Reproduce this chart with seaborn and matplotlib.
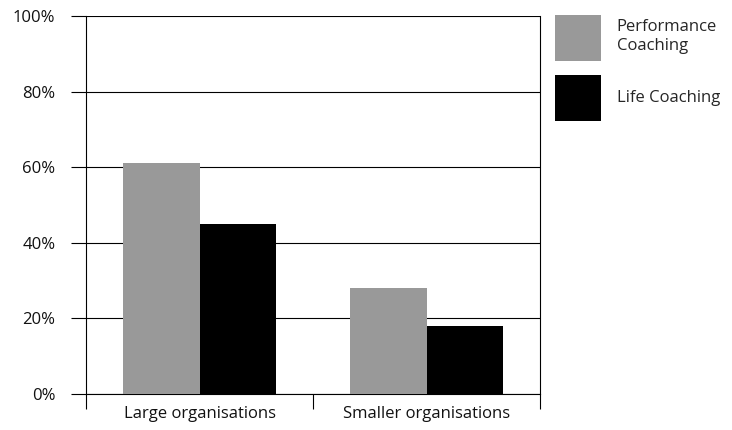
import pandas as pd
import matplotlib.pyplot as plt
import seaborn as sns
from matplotlib.ticker import PercentFormatter, FixedLocator

# data
organisations = ['Large organisations', 'Smaller organisations']
performance_coaching = [0.61, 0.28]
life_coaching = [0.45, 0.18]
series_names = ['Performance Coaching', 'Life Coaching']
legend_labels = ['Performance\nCoaching', 'Life Coaching']
y_ticks = [0.0, 0.2, 0.4, 0.6, 0.8, 1.0]

df = pd.DataFrame({
    'org': organisations * 2,
    'type': [series_names[0]] * 2 + [series_names[1]] * 2,
    'pct': performance_coaching + life_coaching,
})

sns.set_style('white')
plt.rcParams['font.family'] = ['Open Sans', 'DejaVu Sans']

fig = plt.figure(figsize=(7.32, 4.30), dpi=100)
ax = fig.add_axes([86 / 732, 36 / 430, 454 / 732, 378 / 430])

sns.barplot(data=df, x='org', y='pct', hue='type', order=organisations,
            hue_order=series_names, palette=['#999999', '#000000'],
            width=0.67, saturation=1, edgecolor='none', ax=ax, zorder=3)

ax.set_xlim(-0.5, 1.5)
ax.set_ylim(0, 1)
ax.yaxis.set_major_locator(FixedLocator(y_ticks))
ax.yaxis.set_major_formatter(PercentFormatter(1.0, decimals=0))
ax.grid(axis='y', color='black', linewidth=0.8, zorder=1)
ax.grid(axis='x', visible=False)

for side in ['left', 'right', 'bottom']:
    ax.spines[side].set_visible(True)
    ax.spines[side].set_color('black')
    ax.spines[side].set_linewidth(0.8)
ax.spines['top'].set_visible(False)

ax.tick_params(axis='y', which='major', left=True, length=11, width=0.8,
               color='black', pad=11, labelsize=12, labelcolor='#111111')
# category separators below the axis, labels centred without tick marks
ax.set_xticks([-0.5, 0.5, 1.5], minor=True)
ax.tick_params(axis='x', which='minor', bottom=True, length=10.5, width=0.8,
               color='black')
ax.tick_params(axis='x', which='major', bottom=False, length=0, pad=9,
               labelsize=12, labelcolor='#111111')
ax.set_xlabel('')
ax.set_ylabel('')

handles, _ = ax.get_legend_handles_labels()
ax.legend(handles, legend_labels, loc='upper left',
          bbox_to_anchor=(555 / 732, 1 - 15 / 430),
          bbox_transform=fig.transFigure, frameon=False, fontsize=12,
          handlelength=2.75, handleheight=3.85, labelspacing=0.85,
          handletextpad=0.95, borderpad=0, borderaxespad=0)

plt.savefig('out.png', dpi=100)
